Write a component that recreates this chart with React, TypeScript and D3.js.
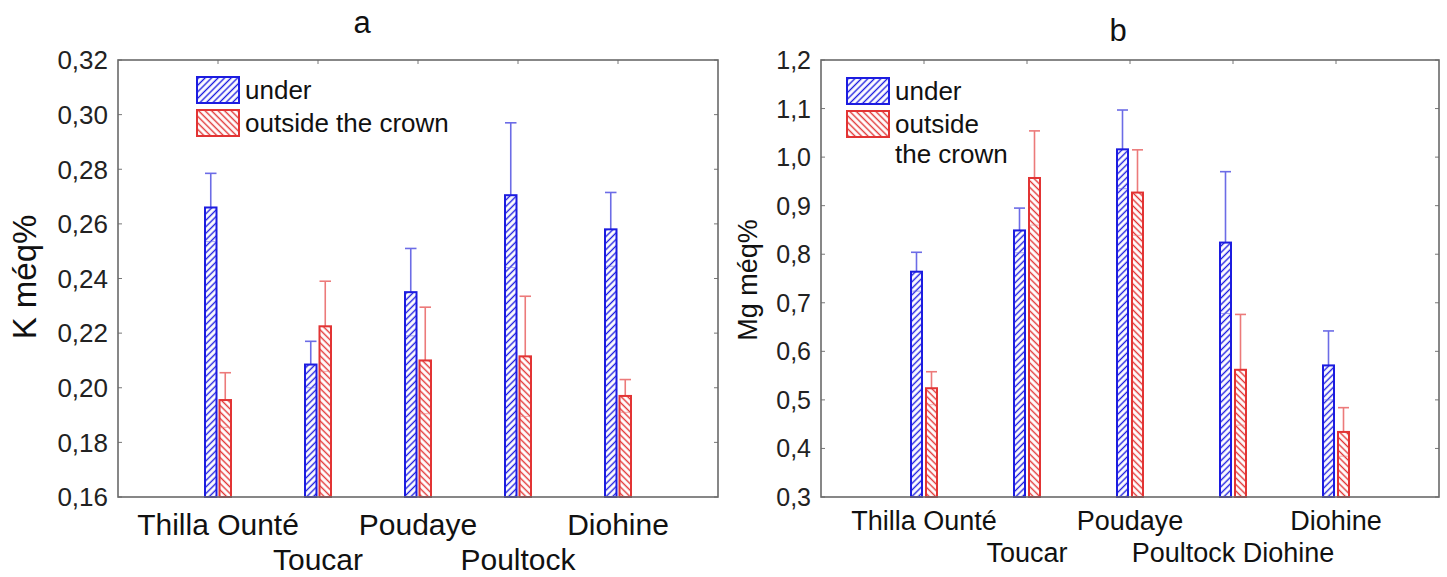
import React, { useEffect, useRef } from 'react';
import * as d3 from 'd3';

// sites along the x axis
const sites = ['Thilla Ounté', 'Toucar', 'Poudaye', 'Poultock', 'Diohine'];
const siteLabelsA = ['Thilla Ounté', 'Toucar', 'Poudaye', 'Poultock', 'Diohine'];
const siteLabelsB = ['Thilla Ounté', 'Toucar', 'Poudaye', 'Poultock Diohine', 'Diohine'];

// panel a: K méq%
const kUnder = [0.266, 0.2085, 0.235, 0.2705, 0.258];
const kUnderErr = [0.0125, 0.0085, 0.016, 0.0265, 0.0135];
const kOutside = [0.1955, 0.2225, 0.210, 0.2115, 0.197];
const kOutsideErr = [0.010, 0.0165, 0.0195, 0.022, 0.006];
const kTicks = [0.16, 0.18, 0.20, 0.22, 0.24, 0.26, 0.28, 0.30, 0.32];

// panel b: Mg méq%
const mgUnder = [0.764, 0.849, 1.016, 0.824, 0.571];
const mgUnderErr = [0.040, 0.046, 0.081, 0.146, 0.071];
const mgOutside = [0.524, 0.957, 0.927, 0.562, 0.434];
const mgOutsideErr = [0.034, 0.097, 0.088, 0.114, 0.050];
const mgTicks = [0.3, 0.4, 0.5, 0.6, 0.7, 0.8, 0.9, 1.0, 1.1, 1.2];

const BLUE = '#1c1ce0';
const BLUE_ERR = '#6c6ce6';
const RED = '#e23434';
const RED_ERR = '#ec7a7a';
const FONT = 'Liberation Sans, Arial, sans-serif';

const panels = [
  {
    id: 'a',
    left: 118, right: 718, top: 60, bottom: 497,
    domain: [0.16, 0.32], ticks: kTicks, fmt: '.2f',
    under: kUnder, underErr: kUnderErr, outside: kOutside, outsideErr: kOutsideErr,
    labels: siteLabelsA, labelSize: 30, row1: 535, row2: 570,
    tickSize: 26, tickX: 108,
    title: 'a', titleX: 362, titleY: 33,
    yLabel: 'K méq%', yLabelX: 36, yLabelY: 277, yLabelSize: 33,
    barW: 11.5, gap: 3,
    legendX: 197, legendY: 77, legendText: [['under'], ['outside the crown']]
  },
  {
    id: 'b',
    left: 821, right: 1439, top: 60, bottom: 497,
    domain: [0.3, 1.2], ticks: mgTicks, fmt: '.1f',
    under: mgUnder, underErr: mgUnderErr, outside: mgOutside, outsideErr: mgOutsideErr,
    labels: siteLabelsB, labelSize: 27, row1: 530, row2: 562,
    tickSize: 25, tickX: 811,
    title: 'b', titleX: 1118, titleY: 41,
    yLabel: 'Mg méq%', yLabelX: 757, yLabelY: 280, yLabelSize: 27,
    barW: 11, gap: 4,
    legendX: 847, legendY: 78, legendText: [['under'], ['outside', 'the crown']]
  }
];

export default function App() {
  const svgRef = useRef<SVGSVGElement>(null);

  useEffect(() => {
    const svg = d3.select(svgRef.current);
    svg.selectAll('*').remove();

    const defs = svg.append('defs');
    const hatch = (id: string, color: string, angle: number, size: number) => {
      const p = defs.append('pattern')
        .attr('id', id)
        .attr('patternUnits', 'userSpaceOnUse')
        .attr('width', size)
        .attr('height', size)
        .attr('patternTransform', `rotate(${angle})`);
      p.append('rect').attr('width', size).attr('height', size).attr('fill', '#fff');
      p.append('line')
        .attr('x1', size / 2).attr('y1', 0)
        .attr('x2', size / 2).attr('y2', size)
        .attr('stroke', color)
        .attr('stroke-width', 1.4);
    };
    hatch('hatch-under', BLUE, 45, 4.6);
    hatch('hatch-outside', RED, -45, 4.6);

    svg.append('rect').attr('width', 1447).attr('height', 577).attr('fill', '#fff');

    panels.forEach(cfg => {
      const g = svg.append('g');
      const x = d3.scalePoint<string>().domain(sites).range([cfg.left, cfg.right]).padding(1);
      const y = d3.scaleLinear().domain(cfg.domain).range([cfg.bottom, cfg.top]);
      const fmt = (v: number) => d3.format(cfg.fmt)(v).replace('.', ',');

      // title
      g.append('text')
        .attr('x', cfg.titleX).attr('y', cfg.titleY)
        .attr('text-anchor', 'middle')
        .attr('font-family', FONT).attr('font-size', 31)
        .attr('fill', '#111')
        .text(cfg.title);

      // y label
      g.append('text')
        .attr('transform', `translate(${cfg.yLabelX},${cfg.yLabelY}) rotate(-90)`)
        .attr('text-anchor', 'middle')
        .attr('font-family', FONT).attr('font-size', cfg.yLabelSize)
        .attr('fill', '#111')
        .text(cfg.yLabel);

      // y tick labels + inner ticks on both sides
      cfg.ticks.forEach(t => {
        g.append('text')
          .attr('x', cfg.tickX).attr('y', y(t))
          .attr('dy', '0.36em')
          .attr('text-anchor', 'end')
          .attr('font-family', FONT).attr('font-size', cfg.tickSize)
          .attr('fill', '#222')
          .text(fmt(t));
        g.append('line')
          .attr('x1', cfg.left).attr('x2', cfg.left + 4)
          .attr('y1', y(t)).attr('y2', y(t))
          .attr('stroke', '#777').attr('stroke-width', 1);
        g.append('line')
          .attr('x1', cfg.right).attr('x2', cfg.right - 4)
          .attr('y1', y(t)).attr('y2', y(t))
          .attr('stroke', '#777').attr('stroke-width', 1);
      });

      // top ticks at category positions
      sites.forEach(s => {
        g.append('line')
          .attr('x1', x(s)!).attr('x2', x(s)!)
          .attr('y1', cfg.top).attr('y2', cfg.top + 4)
          .attr('stroke', '#777').attr('stroke-width', 1);
      });

      // x labels, staggered in two rows
      cfg.labels.forEach((lab, i) => {
        g.append('text')
          .attr('x', x(sites[i])!)
          .attr('y', i % 2 === 0 ? cfg.row1 : cfg.row2)
          .attr('text-anchor', 'middle')
          .attr('font-family', FONT).attr('font-size', cfg.labelSize)
          .attr('fill', '#111')
          .text(lab);
      });

      // bars with error bars
      const series = [
        { vals: cfg.under, errs: cfg.underErr, color: BLUE, errColor: BLUE_ERR, fill: 'url(#hatch-under)', off: -cfg.gap / 2 - cfg.barW },
        { vals: cfg.outside, errs: cfg.outsideErr, color: RED, errColor: RED_ERR, fill: 'url(#hatch-outside)', off: cfg.gap / 2 }
      ];
      series.forEach(sr => {
        sites.forEach((s, i) => {
          const bx = x(s)! + sr.off;
          const v = sr.vals[i];
          const e = sr.errs[i];
          const cx = bx + cfg.barW / 2;
          g.append('line')
            .attr('x1', cx).attr('x2', cx)
            .attr('y1', y(v)).attr('y2', y(v + e))
            .attr('stroke', sr.errColor).attr('stroke-width', 1.6);
          g.append('line')
            .attr('x1', bx).attr('x2', bx + cfg.barW)
            .attr('y1', y(v + e)).attr('y2', y(v + e))
            .attr('stroke', sr.errColor).attr('stroke-width', 1.6);
          g.append('rect')
            .attr('x', bx).attr('y', y(v))
            .attr('width', cfg.barW).attr('height', y(cfg.domain[0]) - y(v))
            .attr('fill', sr.fill)
            .attr('stroke', sr.color).attr('stroke-width', 2);
          // lower error end shows faintly through the bar
          g.append('line')
            .attr('x1', bx + 1).attr('x2', bx + cfg.barW - 1)
            .attr('y1', y(v - e)).attr('y2', y(v - e))
            .attr('stroke', sr.errColor).attr('stroke-width', 1).attr('opacity', 0.6);
        });
      });

      // frame
      g.append('rect')
        .attr('x', cfg.left).attr('y', cfg.top)
        .attr('width', cfg.right - cfg.left).attr('height', cfg.bottom - cfg.top)
        .attr('fill', 'none')
        .attr('stroke', '#6a6a6a').attr('stroke-width', 1.6);

      // legend
      const boxes = [
        { fill: 'url(#hatch-under)', color: BLUE },
        { fill: 'url(#hatch-outside)', color: RED }
      ];
      boxes.forEach((b, k) => {
        const by = cfg.legendY + k * 33;
        g.append('rect')
          .attr('x', cfg.legendX).attr('y', by)
          .attr('width', 42).attr('height', 26)
          .attr('fill', b.fill)
          .attr('stroke', b.color).attr('stroke-width', 2);
        cfg.legendText[k].forEach((line, j) => {
          g.append('text')
            .attr('x', cfg.legendX + 48).attr('y', by + 22 + j * 30)
            .attr('font-family', FONT).attr('font-size', 26)
            .attr('fill', '#111')
            .text(line);
        });
      });
    });
  }, []);

  return (
    <div style={{ position: 'absolute', left: 0, top: 0 }}>
      <svg ref={svgRef} width={1447} height={577} style={{ display: 'block' }} />
    </div>
  );
}
